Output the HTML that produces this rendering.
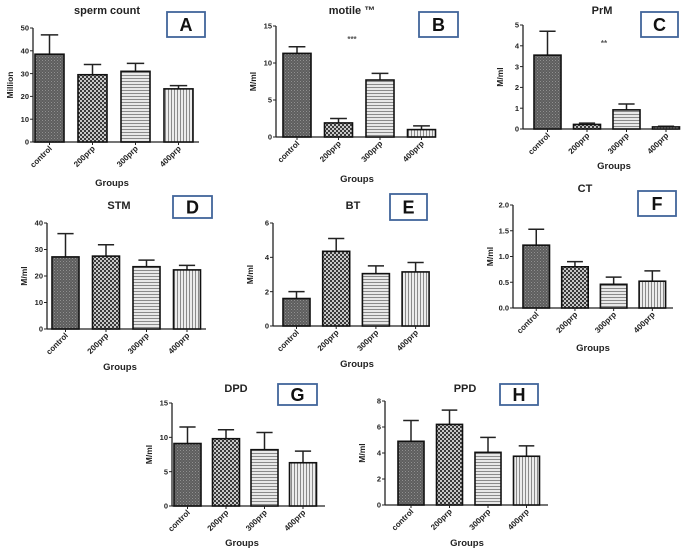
<!DOCTYPE html>
<html><head><meta charset="utf-8"><style>
body{margin:0;background:#fff}
svg{display:block;font-family:"Liberation Sans",sans-serif;font-weight:bold}
</style></head><body>
<svg id="fig" width="685" height="549" viewBox="0 0 685 549" xmlns="http://www.w3.org/2000/svg">
<defs>
<pattern id="p0" width="3" height="3" patternUnits="userSpaceOnUse"><rect width="3" height="3" fill="#5e5e5e"/><rect width="1" height="1" fill="#909090"/><rect x="1.5" y="1.5" width="1" height="1" fill="#808080"/></pattern>
<pattern id="p1" width="4" height="4" patternUnits="userSpaceOnUse"><rect width="4" height="4" fill="#3a3a3a"/><rect width="2" height="2" fill="#c8c8c8"/><rect x="2" y="2" width="2" height="2" fill="#c8c8c8"/></pattern>
<pattern id="p2" width="4" height="3" patternUnits="userSpaceOnUse"><rect width="4" height="3" fill="#e8e8e8"/><rect width="4" height="1" fill="#8a8a8a"/></pattern>
<pattern id="p3" width="3" height="4" patternUnits="userSpaceOnUse"><rect width="3" height="4" fill="#ececec"/><rect width="1" height="4" fill="#8a8a8a"/></pattern>
</defs>
<g id="root"></g>
</svg>
<script>
const categories = ["control","200prp","300prp","400prp"];
const valsA = [38.5, 29.5, 31, 23.3];   const errA = [47, 34, 34.5, 24.7];
const valsB = [11.3, 1.9, 7.7, 1.0];    const errB = [12.2, 2.5, 8.6, 1.5];
const valsC = [3.55, 0.22, 0.92, 0.1];  const errC = [4.7, 0.28, 1.2, 0.13];
const valsD = [27.2, 27.5, 23.5, 22.3]; const errD = [36, 31.8, 26, 24];
const valsE = [1.6, 4.35, 3.05, 3.15];  const errE = [2.0, 5.1, 3.5, 3.7];
const valsF = [1.22, 0.8, 0.46, 0.52];  const errF = [1.53, 0.9, 0.6, 0.72];
const valsG = [9.1, 9.8, 8.2, 6.3];     const errG = [11.5, 11.1, 10.7, 8.0];
const valsH = [4.9, 6.2, 4.05, 3.75];   const errH = [6.5, 7.3, 5.2, 4.55];
const ticksA = [0,10,20,30,40,50]; const ticksB = [0,5,10,15]; const ticksC = [0,1,2,3,4,5];
const ticksD = [0,10,20,30,40]; const ticksE = [0,2,4,6]; const ticksF = [0,0.5,1,1.5,2];
const ticksG = [0,5,10,15]; const ticksH = [0,2,4,6,8];

const panels = [
 {id:"a",letter:"A",title:"sperm count",yl:"Million",vals:valsA,err:errA,ticks:ticksA,ax:33,axEnd:199,yTop:28,yBot:142,x0:35,step:43,bw:29,tx:107,ty:14,box:[167,12,38,25],gx:112,gy:186,dec:0},
 {id:"b",letter:"B",title:"motile ™",yl:"M/ml",vals:valsB,err:errB,ticks:ticksB,ax:276,axEnd:430,yTop:26,yBot:137,x0:283,step:41.5,bw:28,tx:352,ty:14,box:[419,12,39,25],gx:357,gy:182,dec:0,sig:"***",sx:352,sy:42},
 {id:"c",letter:"C",title:"PrM",yl:"M/ml",vals:valsC,err:errC,ticks:ticksC,ax:523,axEnd:678,yTop:25,yBot:129,x0:534,step:39.5,bw:27,tx:602,ty:14,box:[641,12,37,25],gx:614,gy:169,dec:0,sig:"**",sx:604,sy:46},
 {id:"d",letter:"D",title:"STM",yl:"M/ml",vals:valsD,err:errD,ticks:ticksD,ax:47,axEnd:206,yTop:223,yBot:329,x0:52,step:40.5,bw:27,tx:119,ty:209,box:[173,196,39,22],gx:120,gy:370,dec:0},
 {id:"e",letter:"E",title:"BT",yl:"M/ml",vals:valsE,err:errE,ticks:ticksE,ax:273,axEnd:430,yTop:223,yBot:326,x0:283,step:39.7,bw:27,tx:353,ty:209,box:[390,194,37,26],gx:357,gy:367,dec:0},
 {id:"f",letter:"F",title:"CT",yl:"M/ml",vals:valsF,err:errF,ticks:ticksF,ax:513,axEnd:673,yTop:205,yBot:308,x0:523,step:38.7,bw:26.5,tx:585,ty:192,box:[638,191,38,25],gx:593,gy:351,dec:1},
 {id:"g",letter:"G",title:"DPD",yl:"M/ml",vals:valsG,err:errG,ticks:ticksG,ax:172,axEnd:325,yTop:403,yBot:506,x0:174,step:38.5,bw:27,tx:236,ty:392,box:[278,384,39,21],gx:242,gy:546,dec:0},
 {id:"h",letter:"H",title:"PPD",yl:"M/ml",vals:valsH,err:errH,ticks:ticksH,ax:385,axEnd:548,yTop:401,yBot:505,x0:398,step:38.5,bw:26,tx:465,ty:392,box:[500,384,38,21],gx:467,gy:546,dec:0}
];
const NS="http://www.w3.org/2000/svg";
const root=document.getElementById("root");
function mk(tag,attrs,parent,text){const e=document.createElementNS(NS,tag);for(const k in attrs)e.setAttribute(k,attrs[k]);if(text!==undefined)e.textContent=text;parent.appendChild(e);return e;}
panels.forEach(p=>{
  const g=mk("g",{},root);
  
  
  const tmax=p.ticks[p.ticks.length-1];
  const y=v=>p.yBot-(v/tmax)*(p.yBot-p.yTop);
  const t=mk("text",{x:p.tx,y:p.ty,"text-anchor":"middle","font-size":"11",fill:"#222"},g,p.title);
  
  
  const b=mk("rect",{x:p.box[0],y:p.box[1],width:p.box[2],height:p.box[3],fill:"#fff",stroke:"#41659a","stroke-width":"1.8"},g);
  
  
  const bl=mk("text",{x:p.box[0]+p.box[2]/2,y:p.box[1]+p.box[3]/2+6.5,"text-anchor":"middle","font-size":"18",fill:"#111"},g,p.letter);
  
  
  const ya=mk("line",{x1:p.ax,y1:p.yTop,x2:p.ax,y2:p.yBot,stroke:"#222","stroke-width":"1.3"},g);
  
  
  const xa=mk("line",{x1:p.ax,y1:p.yBot,x2:p.axEnd,y2:p.yBot,stroke:"#222","stroke-width":"1.3"},g);
  
  
  p.ticks.forEach(tv=>{
    mk("line",{x1:p.ax-3,y1:y(tv),x2:p.ax,y2:y(tv),stroke:"#222","stroke-width":"1"},g);
    const tl=mk("text",{x:p.ax-4,y:y(tv)+2.7,"text-anchor":"end","font-size":"7.5",fill:"#222"},g,tv.toFixed(p.dec));
    
    
  });
  const yt=mk("text",{x:0,y:0,"text-anchor":"middle","font-size":"8.5",fill:"#222",transform:`translate(${p.ax-20},${(p.yTop+p.yBot)/2}) rotate(-90)`},g,p.yl);
  
  
  p.vals.forEach((v,i)=>{
    const x=p.x0+i*p.step, cx=x+p.bw/2;
    const el=mk("line",{x1:cx,y1:y(v),x2:cx,y2:y(p.err[i]),stroke:"#222","stroke-width":"1.5"},g);
    
    
    mk("line",{x1:cx-p.bw*0.3,y1:y(p.err[i]),x2:cx+p.bw*0.3,y2:y(p.err[i]),stroke:"#222","stroke-width":"1.5"},g);
    const r=mk("rect",{x:x,y:y(v),width:p.bw,height:p.yBot-y(v),fill:`url(#p${i})`,stroke:"#111","stroke-width":"1.6"},g);
    
    
    mk("line",{x1:cx,y1:p.yBot,x2:cx,y2:p.yBot+3,stroke:"#222","stroke-width":"1"},g);
    const cl=mk("text",{x:0,y:0,"text-anchor":"end","font-size":"8",fill:"#222",transform:`translate(${cx+3},${p.yBot+7}) rotate(-45)`},g,categories[i]);
    
    
  });
  const gt=mk("text",{x:p.gx,y:p.gy,"text-anchor":"middle","font-size":"9.5",fill:"#222"},g,"Groups");
  
  
  if(p.sig){
    const s=mk("text",{x:p.sx,y:p.sy,"text-anchor":"middle","font-size":"8",fill:"#555"},g,p.sig);
    
    
  }
});
</script>
</body></html>
